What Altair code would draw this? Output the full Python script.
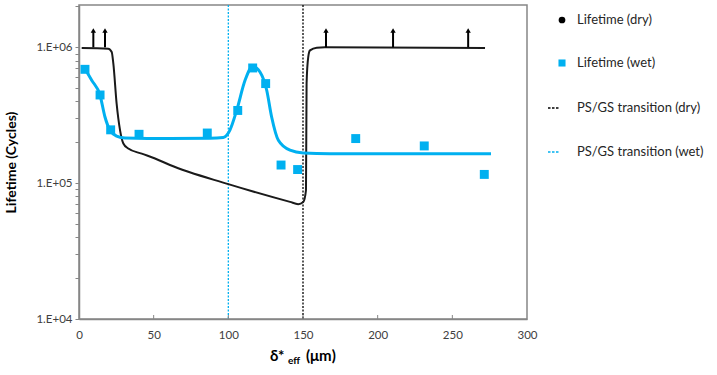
import altair as alt
import pandas as pd

# ---- data ----
wet_x = [4.0, 14.1, 21.2, 40.2, 85.9, 106.3, 116.3, 125.0, 135.3, 146.4, 185.3, 231.2, 271.4]
wet_y = [6.89e5, 4.46e5, 2.47e5, 2.29e5, 2.34e5, 3.43e5, 7.05e5, 5.41e5, 1.36e5, 1.26e5, 2.13e5, 1.88e5, 1.16e5]

wet_fit_x = [4.0, 8.5, 14.1, 17.4, 20.8, 25.2, 30.8, 61.0, 87.7, 96.6, 101.0, 105.6, 111.2, 116.3,
             121.2, 125.7, 129.0, 133.5, 141.3, 150.2, 168.0, 275.9]
wet_fit_y = [6.96e5, 5.72e5, 4.44e5, 3.07e5, 2.45e5, 2.22e5, 2.15e5, 2.13e5, 2.14e5, 2.17e5, 2.45e5,
             3.44e5, 5.72e5, 7.24e5, 6.58e5, 4.83e5, 3.07e5, 2.07e5, 1.75e5, 1.67e5, 1.65e5, 1.65e5]

dry_fit_x = [1.8, 19.6, 21.9, 23.0, 25.2, 27.5, 29.7, 33.0, 42.0, 50.9, 60.9, 100.0, 141.3, 146.8,
             150.2, 152.0, 152.4, 153.5, 154.7, 159.2, 164.7, 271.9]
dry_fit_y = [9.88e5, 9.78e5, 9.23e5, 7.58e5, 3.85e5, 2.45e5, 1.96e5, 1.80e5, 1.65e5, 1.52e5, 1.36e5,
             9.84e4, 7.28e4, 7.01e4, 7.28e4, 8.9e4, 5.41e5, 8.48e5, 9.5e5, 9.95e5, 1.0e6, 9.88e5]

arrow_x = [9.6, 17.4, 165.4, 210.3, 260.6]
arrow_base = 1.0e6
arrow_top = 1.30e6
arrow_head = 1.33e6

transition_dry = 150
transition_wet = 100

x_ticks = [0, 50, 100, 150, 200, 250, 300]
y_ticks = [m * 10 ** k for k in (4, 5, 6) for m in range(1, 10) if m * 10 ** k <= 2.0e6]

legend_labels = ["Lifetime (dry)", "Lifetime (wet)", "PS/GS transition (dry)", "PS/GS transition (wet)"]

BLUE = "#00B0F0"
BLACK = "#000000"
GRAY = "#868686"
FONT = "Lato"

W, H = 448, 314

wet = pd.DataFrame({"x": wet_x, "y": wet_y})
wet_fit = pd.DataFrame({"x": wet_fit_x, "y": wet_fit_y})
dry_fit = pd.DataFrame({"x": dry_fit_x, "y": dry_fit_y})
arrows = pd.DataFrame({"x": arrow_x, "y": [arrow_base] * len(arrow_x),
                       "y2": [arrow_top] * len(arrow_x), "yh": [arrow_head] * len(arrow_x)})
trans = pd.DataFrame({"x": [transition_dry, transition_wet], "c": [BLACK, BLUE]})
xt = pd.DataFrame({"x": x_ticks[1:-1]})

xscale = alt.Scale(domain=[0, 300], nice=False, zero=False)
yscale = alt.Scale(type="log", domain=[1e4, 2.05e6], nice=False)

xaxis = alt.Axis(values=x_ticks, ticks=False, grid=False, labelFontSize=11.5, labelFlush=False,
                 labelColor="#404040", labelPadding=10, domainColor=GRAY, domainWidth=1.5,
                 title=None, labelFont=FONT)
yaxis = alt.Axis(values=y_ticks, grid=False, tickSize=4, tickColor=GRAY, tickWidth=1,
                 labelExpr="(abs(log(datum.value)/LN10 - round(log(datum.value)/LN10)) < 0.001) ? '1.E+0' + round(log(datum.value)/LN10) : ''",
                 labelFontSize=11.5, labelColor="#404040", labelPadding=3, labelFlush=False,
                 domainColor=GRAY, domainWidth=1.5, title="Lifetime (Cycles)",
                 titleFontSize=14, titleFontWeight="bold", titleColor="#000000",
                 titlePadding=17, labelFont=FONT, titleFont=FONT)

base_x = alt.X("x:Q", scale=xscale, axis=xaxis)
base_y = alt.Y("y:Q", scale=yscale, axis=yaxis)

dry_line = alt.Chart(dry_fit).mark_line(color="#1a1a1a", strokeWidth=2, interpolate="monotone").encode(
    x=base_x, y=base_y)
wet_line = alt.Chart(wet_fit).mark_line(color=BLUE, strokeWidth=3, interpolate="monotone").encode(
    x="x:Q", y="y:Q")
wet_pts = alt.Chart(wet).mark_point(shape="square", filled=True, opacity=1, color=BLUE, size=80).encode(
    x="x:Q", y="y:Q")

trans_lines = alt.Chart(trans).mark_rule(strokeDash=[2, 1.5], strokeWidth=1.3).encode(
    x="x:Q", y=alt.value(0), y2=alt.value(H), color=alt.Color("c:N", scale=None))

arrow_shaft = alt.Chart(arrows).mark_rule(color=BLACK, strokeWidth=2).encode(
    x="x:Q", y="y:Q", y2="y2:Q")
arrow_tip = alt.Chart(arrows).mark_point(shape="triangle-up", filled=True, opacity=1, color=BLACK, size=28).encode(
    x="x:Q", y="yh:Q")

xtick_marks = alt.Chart(xt).mark_rule(color=GRAY, strokeWidth=1).encode(
    x="x:Q", y=alt.value(H), y2=alt.value(H - 4))

# x-axis title with subscript
t1 = alt.Chart(pd.DataFrame({"t": ["δ*"]})).mark_text(
    font=FONT, fontSize=15, fontWeight="bold", align="left", baseline="alphabetic", color=BLACK).encode(
    text="t:N", x=alt.value(191), y=alt.value(356))
t2 = alt.Chart(pd.DataFrame({"t": ["eff"]})).mark_text(
    font=FONT, fontSize=10, fontWeight="bold", align="left", baseline="alphabetic", color=BLACK).encode(
    text="t:N", x=alt.value(209), y=alt.value(359))
t3 = alt.Chart(pd.DataFrame({"t": ["(μm)"]})).mark_text(
    font=FONT, fontSize=15, fontWeight="bold", align="left", baseline="alphabetic", color=BLACK).encode(
    text="t:N", x=alt.value(227), y=alt.value(356))

# legend (drawn to the right of the plot)
leg_sym_x = 483
leg_txt_x = 498
leg_ys = [15, 58, 103, 147]
leg_layers = []
leg_layers.append(alt.Chart(pd.DataFrame({"a": [0]})).mark_point(
    shape="circle", filled=True, opacity=1, color=BLACK, size=45).encode(
    x=alt.value(leg_sym_x), y=alt.value(leg_ys[0])))
leg_layers.append(alt.Chart(pd.DataFrame({"a": [0]})).mark_point(
    shape="square", filled=True, opacity=1, color=BLUE, size=50).encode(
    x=alt.value(leg_sym_x), y=alt.value(leg_ys[1])))
leg_layers.append(alt.Chart(pd.DataFrame({"a": [0]})).mark_rule(
    color=BLACK, strokeDash=[2.5, 1.5], strokeWidth=1.5).encode(
    x=alt.value(469), x2=alt.value(481), y=alt.value(leg_ys[2])))
leg_layers.append(alt.Chart(pd.DataFrame({"a": [0]})).mark_rule(
    color=BLUE, strokeDash=[2.5, 1.5], strokeWidth=1.5).encode(
    x=alt.value(469), x2=alt.value(481), y=alt.value(leg_ys[3])))
for lab, yy in zip(legend_labels, leg_ys):
    leg_layers.append(alt.Chart(pd.DataFrame({"t": [lab]})).mark_text(
        font=FONT, fontSize=13, align="left", baseline="middle", color="#262626").encode(
        text="t:N", x=alt.value(leg_txt_x), y=alt.value(yy)))

chart = alt.layer(
    trans_lines, dry_line, wet_line, wet_pts, arrow_shaft, arrow_tip, xtick_marks,
    t1, t2, t3, *leg_layers
).properties(
    width=W, height=H,
    autosize=alt.AutoSizeParams(type="none"),
    padding={"left": 79, "top": 5, "right": 190, "bottom": 56},
    background="white",
).configure_view(
    stroke=GRAY, strokeWidth=1.5
).configure_axis(
    labelFont=FONT, titleFont=FONT
)

chart.save("out.html", embed_options={"renderer": "svg", "actions": False})
